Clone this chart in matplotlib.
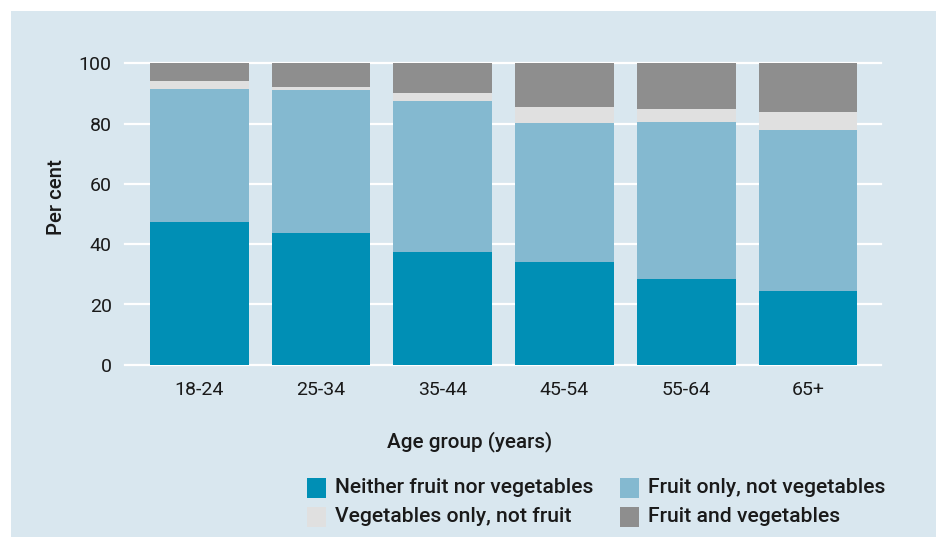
'''
Stacked bar chart: fruit and vegetable consumption by age group
'''
import matplotlib
matplotlib.use('Agg')
import matplotlib.pyplot as plt
from matplotlib.patches import Rectangle

# Data (per cent)
age_groups = ['18-24', '25-34', '35-44', '45-54', '55-64', '65+']
neither = [47.4, 43.7, 37.4, 34.1, 28.5, 24.5]
fruit_only = [44.1, 47.4, 50.1, 46.1, 52.0, 53.4]
veg_only = [2.6, 1.0, 2.6, 5.3, 4.3, 5.9]
fruit_and_veg = [5.9, 7.9, 9.9, 14.5, 15.2, 16.2]

series_names = ['Neither fruit nor vegetables', 'Fruit only, not vegetables',
                'Vegetables only, not fruit', 'Fruit and vegetables']
series_values = [neither, fruit_only, veg_only, fruit_and_veg]
colors = ['#008fb5', '#84b9d0', '#e0e0e0', '#8e8e8e']

BG = '#d9e7ef'
TXT = '#1a1a1a'
plt.rcParams['font.family'] = ['Roboto', 'DejaVu Sans']

W, H = 944, 547
fig = plt.figure(figsize=(W / 100, H / 100), dpi=100, facecolor='white')

# Panel background
fig.add_artist(Rectangle((11 / W, 1 - 537 / H), (936 - 11) / W, (537 - 11) / H,
                         transform=fig.transFigure, facecolor=BG,
                         edgecolor='none', zorder=-10))

# Axes placed in pixel coordinates
left, right, top, bottom = 125, 881, 63.3, 364.8
ax = fig.add_axes([left / W, 1 - bottom / H, (right - left) / W, (bottom - top) / H])
ax.set_facecolor('none')

x = range(len(age_groups))
base = [0] * len(age_groups)
for name, vals, col in zip(series_names, series_values, colors):
    ax.bar(x, vals, width=0.81, bottom=base, color=col, label=name, zorder=3)
    base = [b + v for b, v in zip(base, vals)]

ax.set_xlim(-0.61, 5.6)
ax.set_ylim(0, 100)
ax.set_yticks([0, 20, 40, 60, 80, 100])
ax.yaxis.grid(True, color='white', linewidth=1.6, zorder=0)
for line in ax.get_ygridlines():
    line.set_clip_on(False)
ax.set_axisbelow(True)
for spine in ax.spines.values():
    spine.set_visible(False)
ax.tick_params(axis='both', length=0, labelsize=14, colors=TXT)
ax.tick_params(axis='y', pad=9.5)
ax.tick_params(axis='x', pad=12)
ax.set_xticks(list(x))
ax.set_xticklabels(age_groups)

# Axis titles
fig.text(57 / W, 1 - 197 / H, 'Per cent', rotation=90, ha='center', va='center',
         fontsize=14.7, fontweight='medium', color=TXT)
fig.text(470 / W, 1 - 442 / H, 'Age group (years)', ha='center', va='center',
         fontsize=14.9, fontweight='medium', color=TXT)

# Legend, two columns
legend_pos = [(307, 487.5), (620, 487.5), (307, 517), (620, 517)]
for (px, py), name, col in zip(legend_pos, series_names, colors):
    fig.add_artist(Rectangle((px / W, 1 - (py + 10) / H), 19 / W, 20 / H,
                             transform=fig.transFigure, facecolor=col, edgecolor='none'))
    fig.text((px + 28) / W, 1 - py / H, name, ha='left', va='center',
             fontsize=15.2, fontweight='medium', color=TXT)

fig.savefig('out.png', dpi=100, facecolor='white')
